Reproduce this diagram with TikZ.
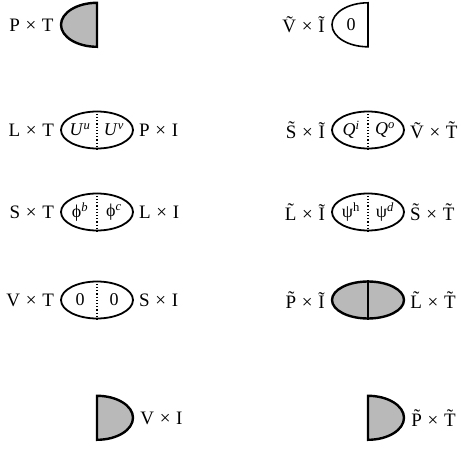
\documentclass[tikz,border=0pt]{standalone}
\usepackage{fontspec}
\setmainfont{Liberation Serif}
\usetikzlibrary{positioning}
\usetikzlibrary{shapes.geometric}
\newcommand{\crs}{\hspace{0.3em}×\hspace{0.3em}}

\begin{document}
\begin{tikzpicture}[x=1pt, y=1pt,
                      fullnode/.style={ellipse, draw, line width=1.8pt, minimum width=72pt, minimum height=37pt, inner sep=0pt},
                      shadenode/.style={fullnode, fill=gray!55, line width=2.4pt},
                      halfnode/.style={ellipse, minimum width=72pt, minimum height=44pt, inner sep=0pt},
                      halfline/.style={line width=1.6pt},
                      halfshade/.style={line width=2.4pt, fill=gray!55},
                      labelnode/.style={font=\fontsize{19}{21}\selectfont, inner sep=1pt},
                      insidenode/.style={font=\fontsize{18}{20}\selectfont, inner sep=0pt},
                      dotline/.style={dotted, line width=1.2pt},
                  ]
                  \useasboundingbox (0,0) rectangle (461,-452);

                  %Left column
                  \node[halfnode]   (ptHalf)   at (97,-25)  {};
                  \node[fullnode]   (uNode)    at (97,-130) {};
                  \node[fullnode]   (phiNode)  at (97,-212) {};
                  \node[fullnode]   (zeroNode) at (97,-300) {};
                  \node[halfnode]   (viHalf)   at (97,-418) {};

                  \node[labelnode]  (pt)  [left=6pt of ptHalf.west]    {P\crs T};
                  \node[labelnode]  (lt)  [left=5pt of uNode.west]     {L\crs T};
                  \node[labelnode]  (pi)  [right=4pt of uNode.east]    {P\crs I};
                  \node[labelnode]  (st)  [left=5pt of phiNode.west]   {S\crs T};
                  \node[labelnode]  (li)  [right=4pt of phiNode.east]  {L\crs I};
                  \node[labelnode]  (vt)  [left=5pt of zeroNode.west]  {V\crs T};
                  \node[labelnode]  (si)  [right=4pt of zeroNode.east] {S\crs I};
                  \node[labelnode]  (vi)  [right=6pt of viHalf.east]   {V\crs I};

                  \node[insidenode] (uu)   at ([xshift=-17pt]uNode.center)    {\textit{U}\textsuperscript{\textit{u}}};
                  \node[insidenode] (uv)   at ([xshift=17pt]uNode.center)     {\textit{U}\textsuperscript{\textit{v}}};
                  \node[insidenode] (phib) at ([xshift=-17pt]phiNode.center)  {ϕ\textsuperscript{\textit{b}}};
                  \node[insidenode] (phic) at ([xshift=17pt]phiNode.center)   {ϕ\textsuperscript{\textit{c}}};
                  \node[insidenode] (zl)   at ([xshift=-17pt]zeroNode.center) {0};
                  \node[insidenode] (zr)   at ([xshift=17pt]zeroNode.center)  {0};

                  %Right column
                  \node[halfnode]   (vtHalf)   at (368,-25)  {};
                  \node[fullnode]   (qNode)    at (368,-130) {};
                  \node[fullnode]   (psiNode)  at (368,-212) {};
                  \node[shadenode]  (grayNode) at (368,-300) {};
                  \node[halfnode]   (ptHalfT)  at (368,-418) {};

                  \node[labelnode]  (vtil)  [left=6pt of vtHalf.west]     {\~V\crs\~I};
                  \node[labelnode]  (stil)  [left=5pt of qNode.west]      {\~S\crs\~I};
                  \node[labelnode]  (vttil) [right=4pt of qNode.east]     {\~V\crs\~T};
                  \node[labelnode]  (ltil)  [left=5pt of psiNode.west]    {\~L\crs\~I};
                  \node[labelnode]  (sttil) [right=4pt of psiNode.east]   {\~S\crs\~T};
                  \node[labelnode]  (ptil)  [left=5pt of grayNode.west]   {\~P\crs\~I};
                  \node[labelnode]  (lttil) [right=4pt of grayNode.east]  {\~L\crs\~T};
                  \node[labelnode]  (pttil) [right=6pt of ptHalfT.east]   {\~P\crs\~T};

                  \node[insidenode] (z0)   at ([xshift=-17pt]vtHalf.center)   {0};
                  \node[insidenode] (qi)   at ([xshift=-17pt]qNode.center)    {\textit{Q}\textsuperscript{\textit{i}}};
                  \node[insidenode] (qo)   at ([xshift=17pt]qNode.center)     {\textit{Q}\textsuperscript{\textit{o}}};
                  \node[insidenode] (psih) at ([xshift=-17pt]psiNode.center)  {ψ\textsuperscript{h}};
                  \node[insidenode] (psid) at ([xshift=17pt]psiNode.center)   {ψ\textsuperscript{\textit{d}}};

                  %Half shapes
                  \draw[halfshade] (ptHalf.north) arc[start angle=90, end angle=270, x radius=36pt, y radius=22pt] -- cycle;
                  \draw[halfshade] (viHalf.north) arc[start angle=90, end angle=-90, x radius=36pt, y radius=22pt] -- cycle;
                  \draw[halfline]  (vtHalf.north) arc[start angle=90, end angle=270, x radius=36pt, y radius=22pt] -- cycle;
                  \draw[halfshade] (ptHalfT.north) arc[start angle=90, end angle=-90, x radius=36pt, y radius=22pt] -- cycle;

                  %Dividers
                  \draw[dotline] (uNode.north) -- (uNode.south);
                  \draw[dotline] (phiNode.north) -- (phiNode.south);
                  \draw[dotline] (zeroNode.north) -- (zeroNode.south);
                  \draw[dotline] (qNode.north) -- (qNode.south);
                  \draw[dotline] (psiNode.north) -- (psiNode.south);
                  \draw[line width=2.4pt] (grayNode.north) -- (grayNode.south);
                  \end{tikzpicture}
\end{document}
